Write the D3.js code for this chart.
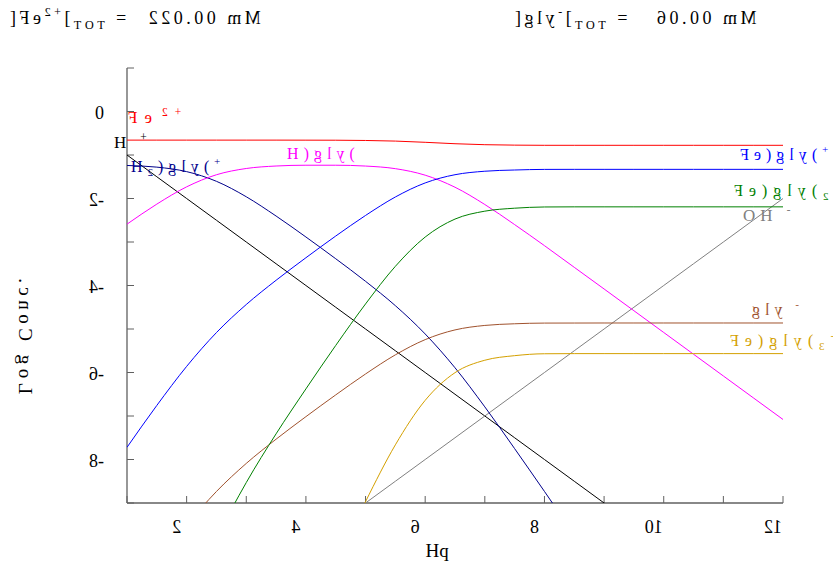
<!DOCTYPE html>
<html>
<head>
<meta charset="utf-8">
<script src="https://cdn.jsdelivr.net/npm/d3@7"></script>
<style>
  body { margin: 0; background: #fff; }
  svg text { font-family: "Liberation Serif", "Times New Roman", serif; white-space: pre; }
</style>
</head>
<body>
<svg id="chart" width="833" height="566"></svg>
<script>
// pH grid and log10 concentrations
const pH = [1, 1.5, 2, 2.5, 3, 3.5, 4, 4.5, 5, 5.5, 6, 6.5, 7, 7.5, 8, 8.5, 9, 9.5, 10, 10.5, 11, 11.5, 12];
const fe2 = [-0.658, -0.658, -0.658, -0.658, -0.658, -0.658, -0.659, -0.66, -0.666, -0.68, -0.708, -0.741, -0.763, -0.773, -0.777, -0.777, -0.777, -0.777, -0.777, -0.777, -0.777, -0.777, -0.777];
const hPlus = [-1, -1.5, -2, -2.5, -3, -3.5, -4, -4.5, -5, -5.5, -6, -6.5, -7, -7.5, -8, -8.5, -9, -9.5, -10, -10.5, -11, -11.5, -12];
const ohMinus = [-13, -12.5, -12, -11.5, -11, -10.5, -10, -9.5, -9, -8.5, -8, -7.5, -7, -6.5, -6, -5.5, -5, -4.5, -4, -3.5, -3, -2.5, -2];
const h2gly = [-1.241, -1.279, -1.382, -1.605, -1.96, -2.403, -2.885, -3.385, -3.904, -4.464, -5.114, -5.891, -6.79, -7.75, -8.734, -9.73, -10.73, -11.73, -12.73, -13.73, -14.73, -15.73, -16.73];
const hgly = [-2.59, -2.129, -1.732, -1.454, -1.31, -1.253, -1.235, -1.235, -1.254, -1.314, -1.464, -1.741, -2.138, -2.6, -3.084, -3.582, -4.08, -4.58, -5.08, -5.58, -6.08, -6.58, -7.08];
const glyMinus = [-11.37, -10.41, -9.512, -8.735, -8.09, -7.533, -7.015, -6.515, -6.034, -5.594, -5.244, -5.021, -4.918, -4.88, -4.864, -4.863, -4.862, -4.862, -4.862, -4.862, -4.862, -4.862, -4.862];
const feGly = [-7.72, -6.757, -5.86, -5.082, -4.437, -3.88, -3.362, -2.863, -2.39, -1.965, -1.642, -1.453, -1.373, -1.345, -1.331, -1.33, -1.33, -1.33, -1.33, -1.33, -1.33, -1.33, -1.33];
const feGly2 = [-15.09, -13.17, -11.37, -9.82, -8.53, -7.41, -6.377, -5.378, -4.424, -3.559, -2.886, -2.473, -2.291, -2.223, -2.195, -2.192, -2.192, -2.192, -2.192, -2.192, -2.192, -2.192, -2.192];
const feGly3 = [-25.0, -22.1, -19.4, -17.06, -15.13, -13.46, -11.9, -10.41, -8.969, -7.663, -6.64, -6.004, -5.718, -5.613, -5.569, -5.566, -5.566, -5.566, -5.566, -5.566, -5.566, -5.566, -5.566];

const xTicks = [2, 4, 6, 8, 10, 12];
const yTicks = [0, -2, -4, -6, -8];

const species = [
  { values: fe2, color: '#ff0000' },
  { values: hPlus, color: '#000000' },
  { values: ohMinus, color: '#808080' },
  { values: h2gly, color: '#00008b' },
  { values: hgly, color: '#ff00ff' },
  { values: glyMinus, color: '#a0522d' },
  { values: feGly, color: '#0000ff' },
  { values: feGly2, color: '#008000' },
  { values: feGly3, color: '#d4a000' }
];

const svg = d3.select('#chart');
const plotL = 127, plotR = 783, plotT = 68, plotB = 503;

const x = d3.scaleLinear().domain([1, 12]).range([plotL, plotR]);
const y = d3.scaleLinear().domain([-9, 1]).range([plotB, plotT]);

// formula text: every glyph mirrored in its own box, reading order kept
const mirrorGlyphs = (parent, px, py, parts, size, color, opts = {}) => {
  const ls = opts.ls || 0;
  const small = size * 0.68;
  const probe = parent.append('text').attr('font-size', size);
  parts.forEach(p => probe.append('tspan').attr('font-size', p.s ? small : size).text(p.t));
  const node = probe.node();
  const adv = [];
  for (let i = 0; i < node.getNumberOfChars(); i++) {
    adv.push(node.getEndPositionOfChar(i).x - node.getStartPositionOfChar(i).x);
  }
  probe.remove();

  let cursor = 0, k = 0;
  const layout = parts.map(p => {
    if (p.dx) cursor += p.dx;
    const dy = p.s === 'sup' ? -size * 0.42 : p.s === 'sub' ? size * 0.27 : 0;
    const xs = [];
    for (let j = 0; j < p.t.length; j++, k++) {
      xs.push(cursor + adv[k]);
      cursor += adv[k] + ls;
    }
    return { p, xs, dy };
  });
  const total = cursor - ls;
  const off = opts.anchor === 'middle' ? -total / 2 : opts.anchor === 'end' ? -total : 0;

  const t = parent.append('g')
    .attr('transform', `translate(${px + off},${py}) scale(1,-1)`)
    .append('text').attr('fill', color).attr('font-size', size);
  layout.forEach(({ p, xs, dy }) => {
    t.append('tspan')
      .attr('font-size', p.s ? small : size)
      .attr('x', xs.map(v => v.toFixed(2)).join(' '))
      .attr('y', xs.map(() => (-dy).toFixed(2)).join(' '))
      .attr('rotate', xs.map(() => 180).join(' '))
      .text(p.t);
  });
};

// plain string mirrored as a whole
const mirrorWhole = (parent, px, py, str, size, anchor) => {
  const t = parent.append('text')
    .attr('x', px).attr('y', py)
    .attr('font-size', size)
    .attr('text-anchor', anchor || 'middle')
    .text(str);
  const w = t.node().getComputedTextLength();
  const cx = anchor === 'end' ? px - w / 2 : px;
  t.attr('transform', `translate(${2 * cx},0) scale(-1,1)`);
};

// axes
const axisColor = '#606060';
svg.append('line').attr('x1', plotL).attr('x2', plotL).attr('y1', plotT).attr('y2', plotB)
  .attr('stroke', axisColor).attr('stroke-width', 1.3);
svg.append('line').attr('x1', plotL).attr('x2', plotR).attr('y1', plotB).attr('y2', plotB)
  .attr('stroke', axisColor).attr('stroke-width', 1.3);

svg.append('g').selectAll('line')
  .data(d3.range(1, 13))
  .join('line')
  .attr('x1', d => x(d)).attr('x2', d => x(d))
  .attr('y1', plotB).attr('y2', plotB - 7)
  .attr('stroke', axisColor);

svg.append('g').selectAll('line')
  .data(d3.range(-9, 2))
  .join('line')
  .attr('x1', plotL).attr('x2', plotL + 7)
  .attr('y1', d => y(d)).attr('y2', d => y(d))
  .attr('stroke', axisColor);

const labels = svg.append('g');
xTicks.forEach(v => mirrorWhole(labels, x(v) - 10, 533, String(v), 18));
yTicks.forEach(v => mirrorWhole(labels, 104, y(v) + 7, String(v), 18, 'end'));

mirrorWhole(labels, 437, 557, 'pH', 19);
labels.append('g')
  .attr('transform', 'translate(19,334) scale(-1,1) rotate(-90)')
  .append('text')
  .attr('text-anchor', 'middle')
  .attr('font-size', 19)
  .attr('letter-spacing', 4.5)
  .text('Log Conc.');

// curves
svg.append('clipPath').attr('id', 'plot')
  .append('rect').attr('x', plotL).attr('y', plotT).attr('width', plotR - plotL).attr('height', plotB - plotT);

const line = d3.line()
  .x((d, i) => x(pH[i]))
  .y(d => y(d))
  .curve(d3.curveMonotoneX);

svg.append('g').attr('clip-path', 'url(#plot)')
  .selectAll('path')
  .data(species)
  .join('path')
  .attr('d', d => line(d.values))
  .attr('fill', 'none')
  .attr('stroke', d => d.color)
  .attr('stroke-width', 1);

// species labels
const sp = svg.append('g');
const ls = { ls: 5 };
mirrorGlyphs(sp, 128, 123, [{ t: 'Fe' }, { t: '2+', s: 'sup', dx: 3 }], 17, '#ff0000', { ls: 7 });
mirrorGlyphs(sp, 114, 148, [{ t: 'H' }, { t: '+', s: 'sup', dx: 9 }], 17, '#000', ls);
mirrorGlyphs(sp, 131, 172, [{ t: 'H' }, { t: '2', s: 'sub' }, { t: '(gly)' }, { t: '+', s: 'sup' }], 16, '#00008b', ls);
mirrorGlyphs(sp, 287, 159, [{ t: 'H(gly)' }], 16, '#ff00ff', ls);
mirrorGlyphs(sp, 740, 160, [{ t: 'Fe(gly)' }, { t: '+', s: 'sup' }], 16, '#0000ff', ls);
mirrorGlyphs(sp, 734, 196, [{ t: 'Fe(gly)' }, { t: '2', s: 'sub' }], 16, '#008000', { ls: 6 });
mirrorGlyphs(sp, 743, 221, [{ t: 'OH' }, { t: '-', s: 'sup', dx: 9 }], 17, '#808080', ls);
mirrorGlyphs(sp, 752, 315, [{ t: 'gly' }, { t: '-', s: 'sup', dx: 8 }], 16, '#a0522d', ls);
mirrorGlyphs(sp, 730, 346, [{ t: 'Fe(gly)' }, { t: '3', s: 'sub' }, { t: '-', s: 'sup' }], 16, '#d4a000', { ls: 6 });

// totals at the top
const tt = svg.append('g');
mirrorGlyphs(tt, 10, 24, [{ t: '[Fe' }, { t: '2+', s: 'sup' }, { t: ']' }, { t: 'TOT', s: 'sub' }, { t: ' =' }, { t: '220.00 mM', dx: 19 }], 18, '#000', { ls: 3.5 });
mirrorGlyphs(tt, 515, 24, [{ t: '[gly' }, { t: '-', s: 'sup' }, { t: ']' }, { t: 'TOT', s: 'sub' }, { t: ' =' }, { t: '60.00 mM', dx: 26 }], 18, '#000', { ls: 3.5 });
</script>
</body>
</html>
